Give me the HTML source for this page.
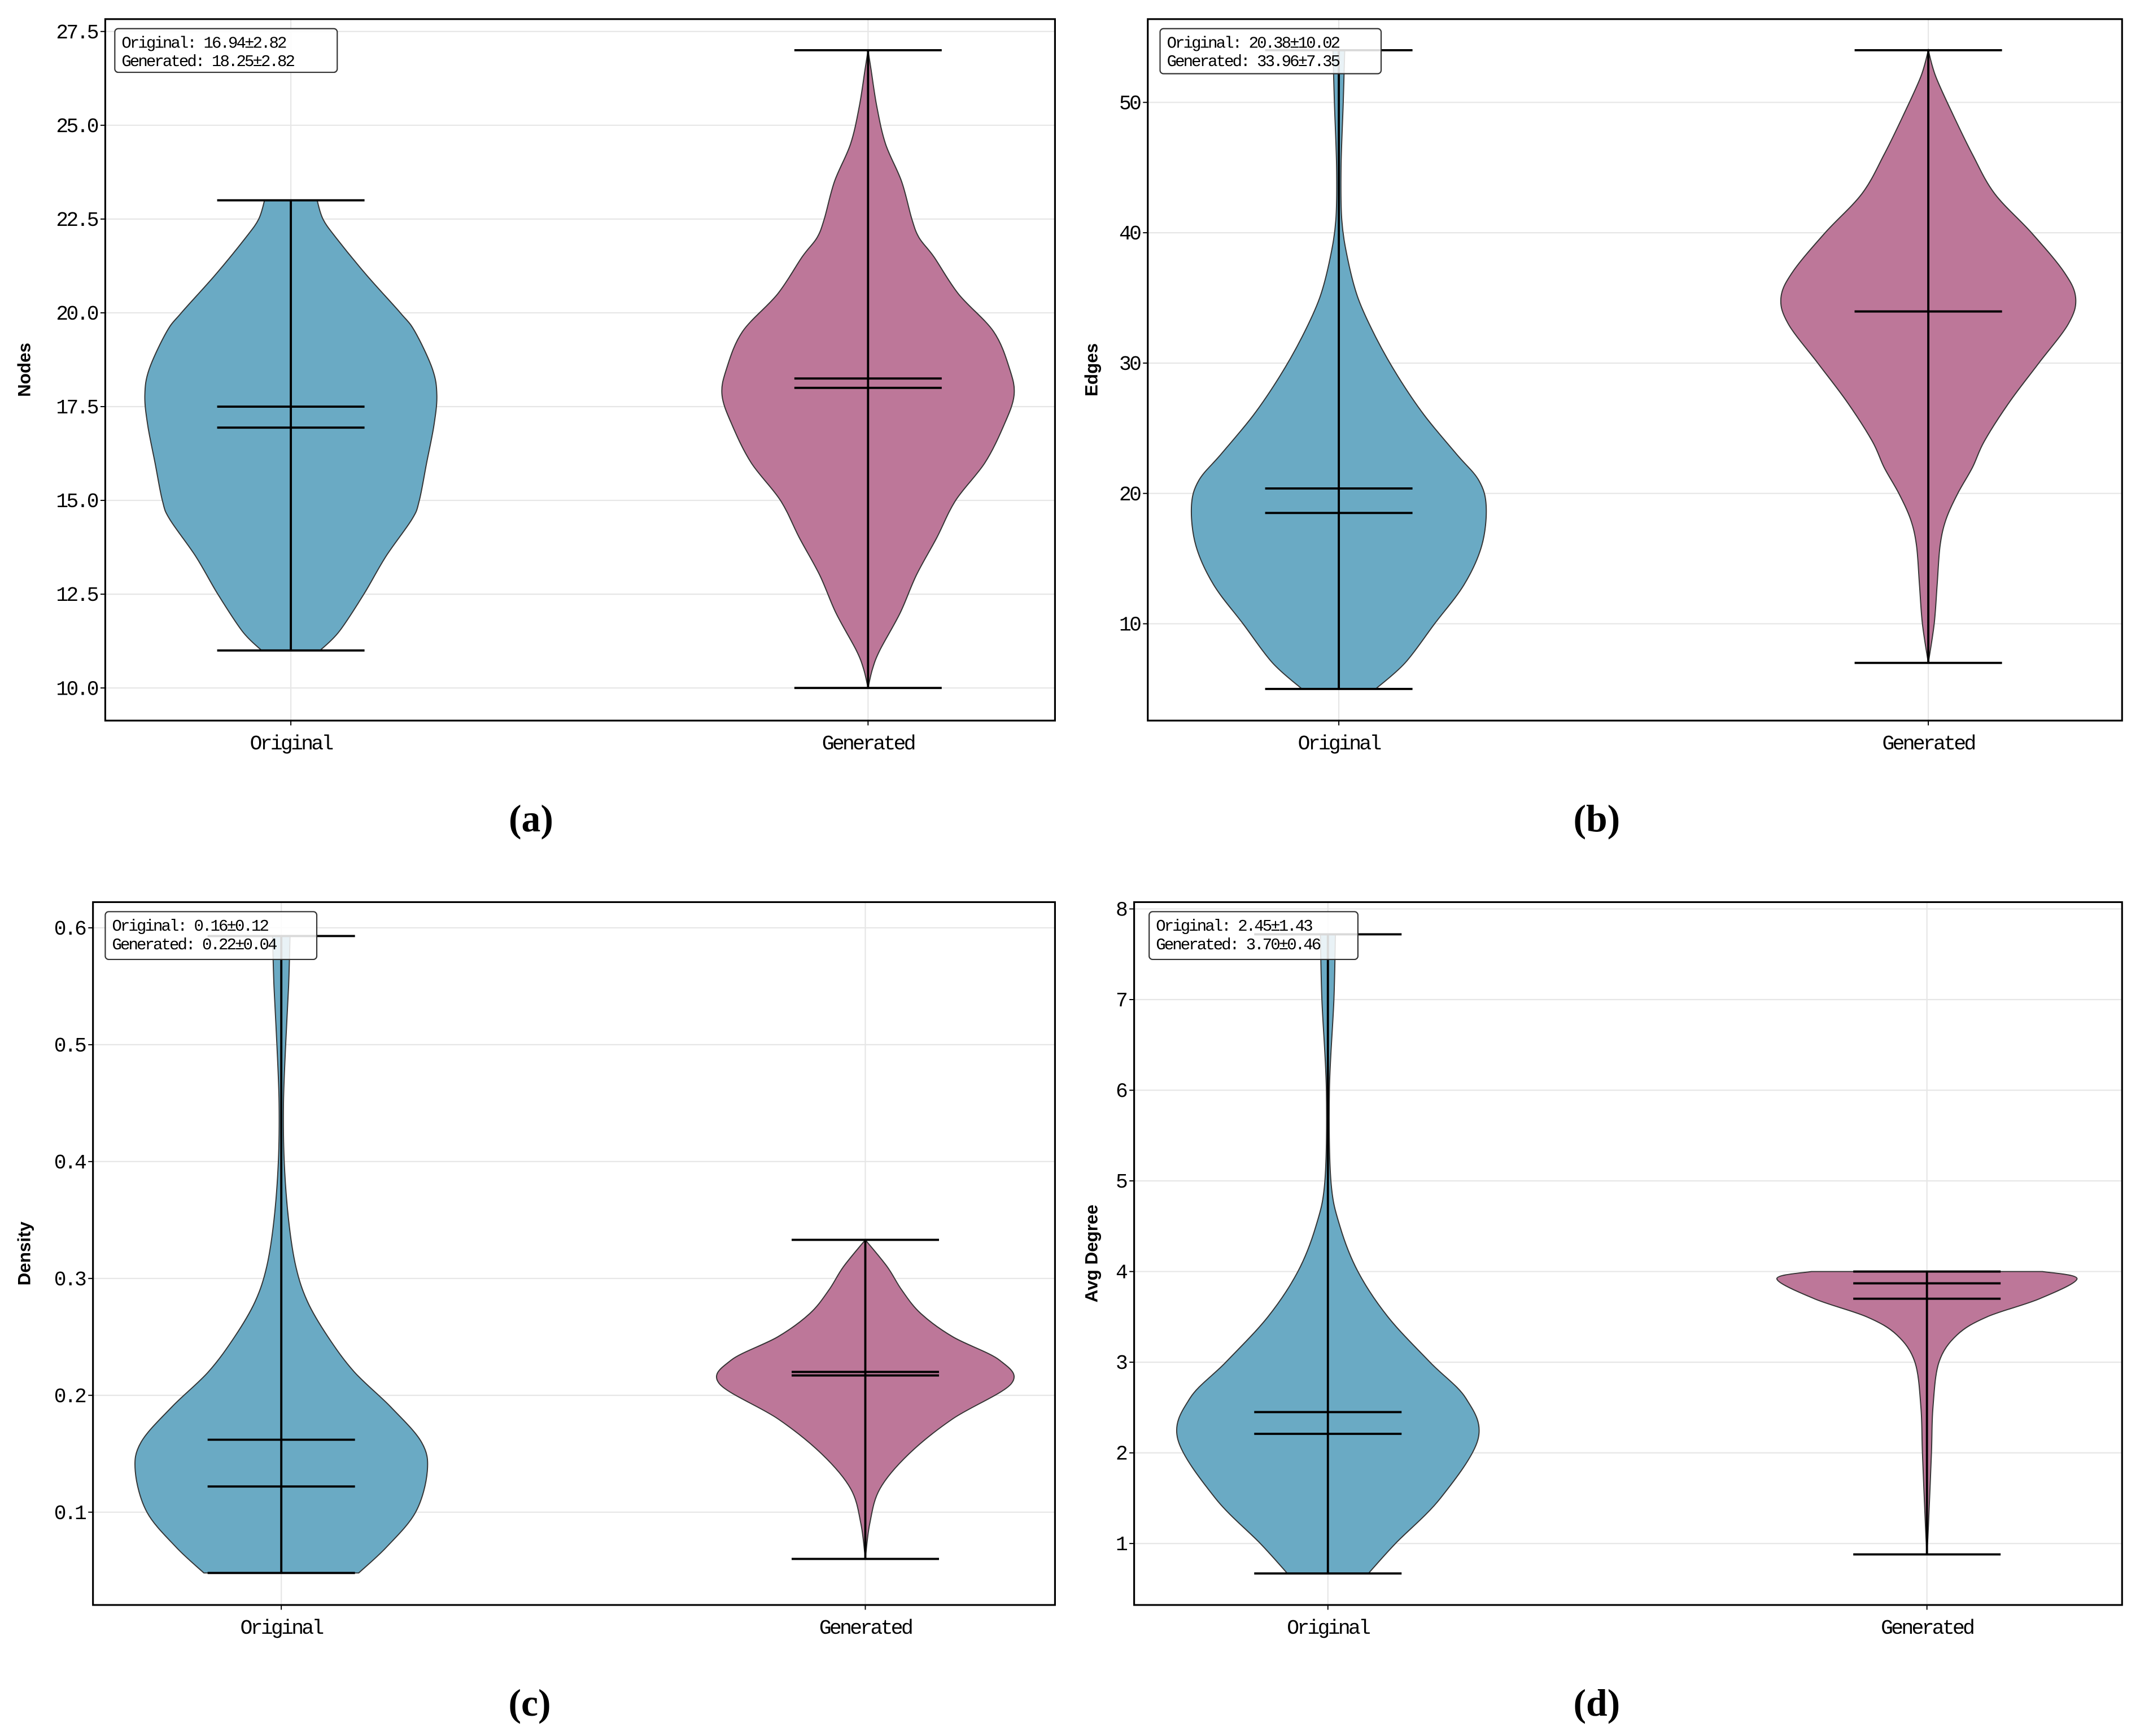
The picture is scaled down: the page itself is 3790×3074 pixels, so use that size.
<!DOCTYPE html>
<html><head><meta charset="utf-8">
<style>
html,body{margin:0;padding:0;background:#fff;}
svg{display:block;}
.tk{font-family:"Liberation Mono","WenQuanYi Zen Hei",monospace;font-size:15px;fill:#000;letter-spacing:-1.5px;}
.bx{font-family:"Liberation Mono","WenQuanYi Zen Hei",monospace;font-size:12px;fill:#000;letter-spacing:-1.2px;}
.yl{font-family:"Liberation Sans",sans-serif;font-size:13px;fill:#000;font-weight:bold;}
.pl{font-family:"Liberation Serif",serif;font-size:28px;fill:#000;font-weight:bold;}
</style></head>
<body>
<svg id="fig" width="3790" height="3074" viewBox="0 0 1568 1272" xmlns="http://www.w3.org/2000/svg"></svg>
<script>
// ---- data ----
const categories = ["Original", "Generated"];
const panelLabels = ["(a)", "(b)", "(c)", "(d)"];
const yTitles = ["Nodes", "Edges", "Density", "Avg Degree"];
const tickLabelsA = ["10.0","12.5","15.0","17.5","20.0","22.5","25.0","27.5"];
const tickValsA = [10,12.5,15,17.5,20,22.5,25,27.5];
const tickValsB = [10,20,30,40,50];
const tickLabelsB = ["10","20","30","40","50"];
const tickValsC = [0.1,0.2,0.3,0.4,0.5,0.6];
const tickLabelsC = ["0.1","0.2","0.3","0.4","0.5","0.6"];
const tickValsD = [1,2,3,4,5,6,7,8];
const tickLabelsD = ["1","2","3","4","5","6","7","8"];
const statTextA = ["Original: 16.94±2.82","Generated: 18.25±2.82"];
const statTextB = ["Original: 20.38±10.02","Generated: 33.96±7.35"];
const statTextC = ["Original: 0.16±0.12","Generated: 0.22±0.04"];
const statTextD = ["Original: 2.45±1.43","Generated: 3.70±0.46"];
// summary stats [min, max, mean, median]
const statsA = [[11,23,17.5,16.94],[10,27,18.25,18.0]];
const statsB = [[5,54,20.38,18.5],[7,54,33.96,33.96]];
const statsC = [[0.048,0.593,0.162,0.122],[0.06,0.333,0.22,0.217]];
const statsD = [[0.67,7.72,2.45,2.21],[0.88,4.0,3.70,3.87]];
// density shapes: values and relative half widths
const densYA0 = [11,11.5,12.5,13.5,14.5,15,16,17,17.8,18.5,19.5,20,21,22,22.5,23];
const densWA0 = [0.2,0.33,0.5,0.65,0.83,0.88,0.93,0.98,1,0.97,0.85,0.75,0.52,0.31,0.22,0.18];
const densYA1 = [10,10.5,11,12,13,14,15,16,17,17.8,18.5,19.5,20.5,21.5,22,22.5,23.5,24.5,25.5,26.5,27];
const densWA1 = [0,0.03,0.08,0.22,0.33,0.47,0.6,0.8,0.93,1,0.97,0.86,0.62,0.45,0.35,0.3,0.23,0.12,0.06,0.02,0];
const densYB0 = [5,7,10,13,16,19,21,23,26,29,32,35,38,41,45,50,54];
const densWB0 = [0.25,0.45,0.65,0.85,0.97,1,0.95,0.8,0.58,0.4,0.25,0.13,0.06,0.02,0.015,0.03,0.04];
const densYB1 = [7,10,13,16,18,20,22,24,27,30,33,35,37,40,43,46,49,52,54];
const densWB1 = [0,0.04,0.06,0.08,0.12,0.2,0.3,0.38,0.55,0.75,0.95,1,0.92,0.7,0.45,0.3,0.17,0.05,0];
const densYC0 = [0.048,0.07,0.1,0.135,0.16,0.19,0.22,0.25,0.28,0.31,0.35,0.4,0.45,0.5,0.55,0.593];
const densWC0 = [0.53,0.72,0.92,1,0.96,0.75,0.5,0.32,0.18,0.1,0.05,0.02,0.015,0.03,0.05,0.06];
const densYC1 = [0.06,0.09,0.12,0.15,0.18,0.21,0.23,0.25,0.27,0.29,0.31,0.333];
const densWC1 = [0,0.03,0.1,0.3,0.6,1,0.92,0.6,0.38,0.25,0.15,0];
const densYD0 = [0.67,1,1.5,2.15,2.6,3,3.5,4,4.5,5,6,7,7.72];
const densWD0 = [0.27,0.45,0.75,1,0.92,0.68,0.4,0.2,0.08,0.02,0.01,0.04,0.05];
const densYD1 = [0.88,1.2,2,2.5,3,3.3,3.5,3.7,3.92,4.0];
const densWD1 = [0,0.01,0.03,0.04,0.08,0.2,0.4,0.75,1,0.77];

// ---- layout (not data) ----
const panels = [
 {x0:77,x1:773,y0:14,y1:528,ylo:9.13,yhi:27.83,cx:[213,636],hw:107,ticks:tickValsA,labels:tickLabelsA,stats:statsA,dy:[densYA0,densYA1],dw:[densWA0,densWA1],txt:statTextA,box:[84,21,163,32],tl:{x:389,y:609},ytx:22},
 {x0:841,x1:1555,y0:14,y1:528,ylo:2.57,yhi:56.39,cx:[981,1413],hw:108,ticks:tickValsB,labels:tickLabelsB,stats:statsB,dy:[densYB0,densYB1],dw:[densWB0,densWB1],txt:statTextB,box:[850,21,162,33],tl:{x:1170,y:609},ytx:804},
 {x0:68,x1:773,y0:661,y1:1176,ylo:0.0206,yhi:0.622,cx:[206,634],hw:107,ticks:tickValsC,labels:tickLabelsC,stats:statsC,dy:[densYC0,densYC1],dw:[densWC0,densWC1],txt:statTextC,box:[77,668,155,35],tl:{x:388,y:1257},ytx:22},
 {x0:831,x1:1555,y0:661,y1:1176,ylo:0.322,yhi:8.075,cx:[973,1412],hw:110,ticks:tickValsD,labels:tickLabelsD,stats:statsD,dy:[densYD0,densYD1],dw:[densWD0,densWD1],txt:statTextD,box:[842,668,153,35],tl:{x:1170,y:1257},ytx:804}
];
const colors = ["#6aaac4","#bd7799"];
const NS = "http://www.w3.org/2000/svg";
const svg = document.getElementById("fig");
function mk(tag, attrs, parent){
  const e = document.createElementNS(NS, tag);
  for (const k in attrs) e.setAttribute(k, attrs[k]);
  (parent||svg).appendChild(e);
  return e;
}
panels.forEach((p, pi) => {
  const g = mk("g", {});
  
  
  const yS = v => p.y1 - (v - p.ylo) / (p.yhi - p.ylo) * (p.y1 - p.y0);
  p.ticks.forEach((t, i) => {
    const y = yS(t);
    const gl = mk("line", {x1:p.x0,x2:p.x1,y1:y,y2:y,stroke:"#e6e6e6","stroke-width":0.9}, g);
    
    
    const tk = mk("line", {x1:p.x0-3.5,x2:p.x0,y1:y,y2:y,stroke:"#000","stroke-width":0.8}, g);
    
    
    const tx = mk("text", {x:p.x0-6,y:y+5,"text-anchor":"end",class:"tk"}, g);
    tx.textContent = p.labels[i];
    
    
  });
  p.cx.forEach((cx, ci) => {
    const gl = mk("line", {x1:cx,x2:cx,y1:p.y0,y2:p.y1,stroke:"#e6e6e6","stroke-width":0.9}, g);
    
    
  });
  p.cx.forEach((cx, ci) => {
    const ys = p.dy[ci], ws = p.dw[ci];
    let right = [], left = [];
    for (let i = 0; i < ys.length; i++) {
      right.push([cx + ws[i]*p.hw, yS(ys[i])]);
      left.push([cx - ws[i]*p.hw, yS(ys[i])]);
    }
    function smooth(arr){
      let d = "M" + arr[0][0] + "," + arr[0][1];
      for (let i = 0; i < arr.length - 1; i++) {
        const p0 = arr[Math.max(0,i-1)], p1 = arr[i], p2 = arr[i+1], p3 = arr[Math.min(arr.length-1,i+2)];
        const c1 = [p1[0]+(p2[0]-p0[0])/6, p1[1]+(p2[1]-p0[1])/6];
        const c2 = [p2[0]-(p3[0]-p1[0])/6, p2[1]-(p3[1]-p1[1])/6];
        d += " C" + c1.join(",") + " " + c2.join(",") + " " + p2.join(",");
      }
      return d;
    }
    const rd = smooth(right);
    const ld = smooth(left.reverse()).replace(/^M/, " L");
    const v = mk("path", {d: rd + ld + " Z", fill: colors[ci], stroke: "#333", "stroke-width": 0.8}, g);
    
    
    const st = p.stats[ci];
    const cap = 54;
    const vl = mk("line", {x1:cx,x2:cx,y1:yS(st[0]),y2:yS(st[1]),stroke:"#000","stroke-width":1.6}, g);
    
    
    [st[0], st[1], st[2], st[3]].forEach((val, k) => {
      const l = mk("line", {x1:cx-cap,x2:cx+cap,y1:yS(val),y2:yS(val),stroke:"#000","stroke-width":1.6}, g);
      
      
    });
    const xt = mk("line", {x1:cx,x2:cx,y1:p.y1,y2:p.y1+3.5,stroke:"#000","stroke-width":0.8}, g);
    
    
    const xl = mk("text", {x:cx,y:p.y1+21,"text-anchor":"middle",class:"tk"}, g);
    xl.textContent = categories[ci];
    
    
  });
  const fr = mk("rect", {x:p.x0,y:p.y0,width:p.x1-p.x0,height:p.y1-p.y0,fill:"none",stroke:"#000","stroke-width":1.3}, g);
  
  
  const b = p.box;
  const br = mk("rect", {x:b[0],y:b[1],width:b[2],height:b[3],rx:2.5,fill:"#fff","fill-opacity":0.85,stroke:"#333","stroke-width":0.9}, g);
  
  
  p.txt.forEach((s, i) => {
    const t = mk("text", {x:b[0]+5,y:b[1]+14+i*13.5,class:"bx"}, g);
    t.textContent = s;
    
    
  });
  const yc = (p.y0 + p.y1) / 2;
  const yt = mk("text", {x:p.ytx,y:yc,"text-anchor":"middle",class:"yl",transform:"rotate(-90 "+p.ytx+" "+yc+")"}, g);
  yt.textContent = yTitles[pi];
  
  
  const pl = mk("text", {x:p.tl.x,y:p.tl.y,"text-anchor":"middle",class:"pl"}, g);
  pl.textContent = panelLabels[pi];
  
  
});
</script>
</body></html>
